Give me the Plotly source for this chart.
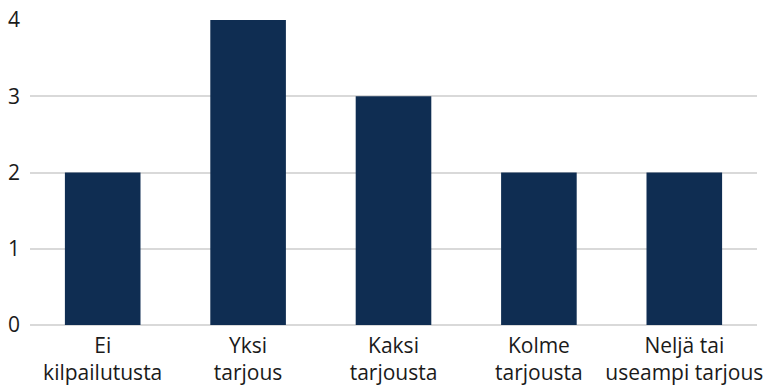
import plotly.graph_objects as go

categories = ["Ei<br>kilpailutusta", "Yksi<br>tarjous", "Kaksi<br>tarjousta", "Kolme<br>tarjousta", "Neljä tai<br>useampi tarjous"]
values = [2, 4, 3, 2, 2]
y_ticks = [0, 1, 2, 3, 4]

fig = go.Figure(go.Bar(x=categories, y=values, marker=dict(color="#0f2d52", line=dict(width=0)), hoverinfo="skip"))
fig.update_layout(
    width=767, height=385,
    margin=dict(l=30, r=10, t=20, b=60),
    plot_bgcolor="white", paper_bgcolor="white",
    bargap=0.48,
    showlegend=False,
    font=dict(family="Open Sans", size=21, color="#1a1a1a"),
)
fig.update_xaxes(showgrid=False, showline=False, ticks="", tickfont=dict(size=21), ticklabelstandoff=6,
                 automargin=False)
fig.update_yaxes(range=[0, 4], tickvals=y_ticks, showgrid=True, gridcolor="#d9d9d9", gridwidth=2,
                 zeroline=True, zerolinecolor="#d9d9d9", zerolinewidth=2, ticks="", ticklabelstandoff=9,
                 tickfont=dict(size=21), automargin=False)
fig.write_html("out.html")
